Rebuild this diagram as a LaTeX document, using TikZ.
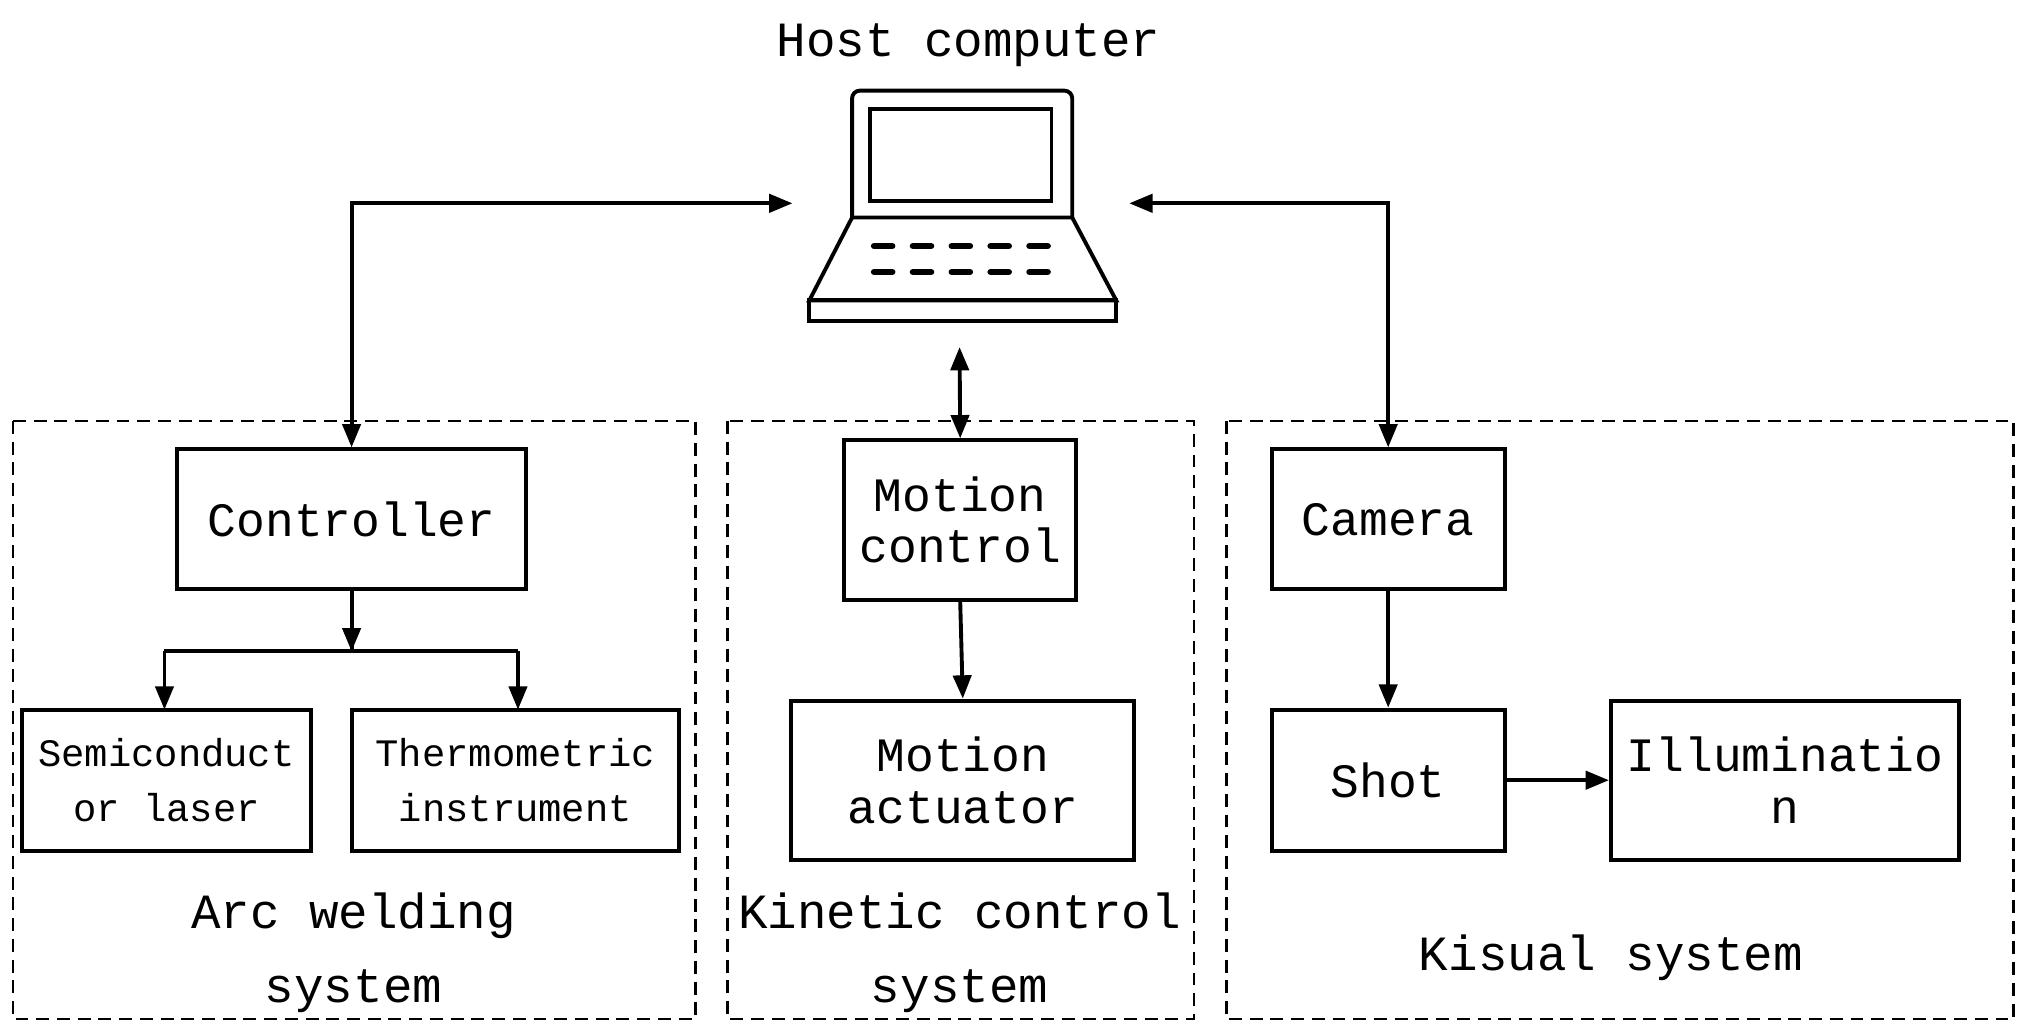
\documentclass[tikz,border=0pt]{standalone}
\usepackage{fontspec}
\setmainfont{Liberation Mono}
\usetikzlibrary{arrows.meta}
\begin{document}
\begin{tikzpicture}[x=1pt,y=-1pt,
  lw/.style={line width=3pt},
  box/.style={draw,line width=3pt,inner sep=0pt,align=center,font=\fontsize{37}{40}\selectfont},
  sbox/.style={box,font=\fontsize{30}{42}\selectfont},
  grp/.style={draw,line width=2pt,dash pattern=on 10pt off 6pt},
  lbl/.style={align=center,font=\fontsize{38}{57}\selectfont},
  arr/.style={lw,-{Triangle[length=18pt,width=14pt]}},
  darr/.style={lw,{Triangle[length=18pt,width=14pt]}-{Triangle[length=18pt,width=14pt]}}]
\useasboundingbox (0,0) rectangle (1563,795);
\node[lbl] (host) at (748,35) {Host computer};
% laptop
\draw[lw,rounded corners=6pt] (658,168) -- (658,70) -- (828,70) -- (828,168);
\draw[lw] (672,84) rectangle (812,155);
\draw[lw] (658,168) -- (625,232) -- (862,232) -- (828,168) -- cycle;
\draw[lw] (625,232) rectangle (862,248);
\foreach \yy in {190,210}
  \foreach \xx in {675,705,735,765,795}
    \draw[line width=5pt,line cap=round] (\xx,\yy) -- (\xx+14,\yy);
\coordinate (lapL) at (612,157);
\coordinate (lapR) at (872,157);
\coordinate (lapB) at (741,268);
% groups
\draw[grp] (10,325) rectangle (537,787);
\draw[grp] (562,325) rectangle (922,787);
\draw[grp] (947,325) rectangle (1555,787);
% nodes
\node[box,minimum width=269pt,minimum height=108pt] (ctrl) at (271.5,401) {Controller};
\node[sbox,minimum width=223pt,minimum height=109pt] (semi) at (128.5,602.5) {Semiconduct\\or laser};
\node[sbox,minimum width=252pt,minimum height=109pt] (thermo) at (398,602.5) {Thermometric\\instrument};
\node[box,minimum width=179pt,minimum height=123pt] (mc) at (741.5,401.5) {Motion\\control};
\node[box,minimum width=265pt,minimum height=123pt] (ma) at (743.5,602.5) {Motion\\actuator};
\node[box,minimum width=180pt,minimum height=108pt] (cam) at (1072,401) {Camera};
\node[box,minimum width=180pt,minimum height=109pt] (shot) at (1072,602.5) {Shot};
\node[box,minimum width=269pt,minimum height=123pt] (ill) at (1378.5,602.5) {Illuminatio\\n};
\node[lbl] at (273,736) {Arc welding\\system};
\node[lbl] at (741,736) {Kinetic control\\system};
\node[lbl] at (1244,740) {Kisual system};
% connectors
\draw[darr] (ctrl.north) |- (lapL);
\draw[darr] (cam.north) |- (lapR);
\draw[darr] (lapB) -- (mc.north);
\draw[lw] (ctrl.south) -- (271.5,503);
\draw[arr] (ctrl.south) -- (271.5,503);
\draw[lw] (127,503) -- (400,503);
\draw[arr] (127,503) -- (127,548);
\draw[arr] (400,503) -- (400,548);
\draw[arr] (mc.south) -- (ma.north);
\draw[arr] (cam.south) -- (shot.north);
\draw[arr] (shot.east) -- (shot.east -| ill.west);
\end{tikzpicture}
\end{document}
